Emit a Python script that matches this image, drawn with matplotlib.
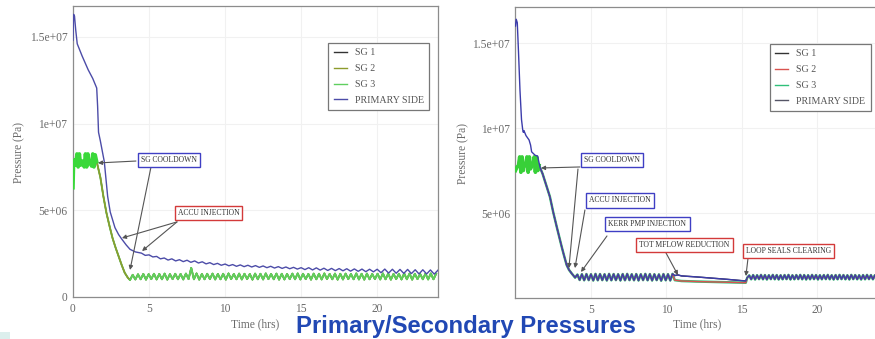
import numpy as np
import matplotlib
matplotlib.use("Agg")
import matplotlib.pyplot as plt
from matplotlib.ticker import FuncFormatter
from matplotlib.patches import Rectangle

plt.rcParams['font.family'] = ['Liberation Serif', 'DejaVu Serif']

MPA = 1e6
SERIES = ["SG 1", "SG 2", "SG 3", "PRIMARY SIDE"]

# ---------------- Left case (pressures in MPa, time in hours) ----------------
left_sg_head_t = [0.0, 0.04, 0.1, 0.18, 0.26, 0.34, 0.42, 0.5, 0.58, 0.66,
                  0.74, 0.82, 0.9, 0.98, 1.06, 1.14, 1.22, 1.3, 1.38, 1.46,
                  1.56, 1.8, 2.0, 2.2, 2.4, 2.6, 2.8, 3.0, 3.2, 3.4, 3.6]
left_sg_head_p = [6.3, 7.8, 7.9, 7.6, 8.25, 7.5, 8.25, 7.6, 7.85, 7.75,
                  7.5, 8.25, 7.5, 8.25, 7.7, 7.8, 7.55, 8.25, 7.5, 8.2,
                  7.8, 6.9, 5.8, 4.85, 4.1, 3.4, 2.85, 2.35, 1.85, 1.4, 1.12]
left_sg_troughs = [0.98, 1.01, 1.02, 1.00, 1.03, 1.01, 1.02, 1.00, 1.03, 1.02,
                   1.01, 1.03, 1.02, 1.00, 1.02, 1.03, 1.01, 1.02, 1.00, 1.03,
                   1.02, 1.01, 1.03, 1.00, 1.02, 1.01, 1.03, 1.02, 1.00, 1.01,
                   1.03, 1.02, 1.01, 1.03, 1.00, 1.02, 1.01, 1.03, 1.02, 1.00,
                   1.01, 1.03, 1.02, 1.01, 1.00, 1.02, 1.03, 1.01, 1.02, 1.00,
                   1.03, 1.01, 1.02, 1.00, 1.03, 1.02, 1.01, 1.02]
left_sg_peaks = [1.28, 1.31, 1.33, 1.32, 1.34, 1.33, 1.35, 1.32, 1.34, 1.33,
                 1.35, 1.68, 1.36, 1.33, 1.34, 1.35, 1.33, 1.34, 1.36, 1.33,
                 1.35, 1.34, 1.33, 1.35, 1.34, 1.36, 1.33, 1.35, 1.34, 1.33,
                 1.35, 1.36, 1.34, 1.33, 1.35, 1.34, 1.36, 1.33, 1.35, 1.34,
                 1.35, 1.33, 1.36, 1.34, 1.35, 1.33, 1.34, 1.36, 1.35, 1.33,
                 1.34, 1.36, 1.35, 1.34, 1.33, 1.35, 1.36, 1.34]
left_prim_head_t = [0.0, 0.04, 0.1, 0.18, 0.28, 0.6, 1.0, 1.3, 1.56, 1.62,
                    1.68, 1.8, 2.06, 2.28, 2.45, 2.76, 3.0, 3.2, 3.5, 3.75, 4.1]
left_prim_head_p = [14.8, 16.3, 16.2, 15.4, 14.6, 13.9, 13.1, 12.6, 12.05, 11.0,
                    9.5, 9.0, 7.8, 5.8, 4.9, 4.0, 3.6, 3.35, 3.0, 2.75, 2.6]
left_prim_highs = [2.53, 2.43, 2.34, 2.25, 2.20, 2.15, 2.12, 2.08, 2.03, 1.98,
                   1.94, 1.90, 1.87, 1.85, 1.83, 1.81, 1.79, 1.77, 1.75, 1.73,
                   1.71, 1.69, 1.69, 1.68, 1.66, 1.65, 1.64, 1.63, 1.62, 1.61,
                   1.60, 1.60, 1.61, 1.60, 1.59, 1.59, 1.57, 1.57, 1.56, 1.55]
left_prim_lows = [2.40, 2.31, 2.20, 2.13, 2.08, 2.04, 2.00, 1.96, 1.91, 1.87,
                  1.83, 1.80, 1.77, 1.75, 1.73, 1.71, 1.69, 1.67, 1.65, 1.63,
                  1.61, 1.58, 1.56, 1.55, 1.53, 1.52, 1.51, 1.49, 1.48, 1.46,
                  1.45, 1.40, 1.38, 1.37, 1.36, 1.35, 1.33, 1.33, 1.32]

# ---------------- Right case ----------------
right_sg_head_t = [0.0, 0.1, 0.2, 0.28, 0.36, 0.44, 0.52, 0.6, 0.68, 0.76,
                   0.84, 0.92, 1.0, 1.08, 1.16, 1.24, 1.32, 1.4, 1.48, 1.56]
right_sg_head_p = [7.5, 7.7, 7.8, 8.3, 7.4, 8.3, 7.5, 7.9, 7.8, 8.3,
                   7.4, 8.3, 7.6, 7.9, 7.8, 8.3, 7.4, 8.3, 7.5, 7.8]
right_prim_head_t = [0.0, 0.05, 0.12, 0.2, 0.3, 0.4, 0.48, 0.52, 0.56, 0.7,
                     0.9, 1.0, 1.07, 1.18, 1.3, 1.47, 1.55]
right_prim_head_p = [16.0, 16.4, 16.2, 14.5, 12.2, 10.5, 9.9, 9.75, 9.85, 9.55,
                     9.3, 9.0, 8.6, 8.5, 8.4, 8.35, 8.0]
right_descent_t = [1.64, 1.8, 2.0, 2.28, 2.5, 2.73, 3.06, 3.2, 3.39, 3.55, 3.72]
right_descent_p = [7.65, 7.3, 6.75, 5.96, 5.05, 4.2, 3.02, 2.55, 1.94, 1.65, 1.45]
right_osc1_troughs = [1.20, 1.06, 1.04, 1.05, 1.03, 1.04, 1.05, 1.03, 1.04, 1.05,
                      1.03, 1.04, 1.05, 1.04, 1.03, 1.05, 1.04, 1.03, 1.05, 1.02,
                      1.04, 1.03]
right_osc1_peaks = [1.38, 1.40, 1.41, 1.40, 1.42, 1.41, 1.40, 1.42, 1.41, 1.40,
                    1.41, 1.42, 1.40, 1.41, 1.40, 1.42, 1.41, 1.40, 1.39, 1.41,
                    1.40, 1.42]
right_prim_mid_t = [10.55, 10.75, 11.0, 12.0, 13.0, 14.0, 15.0, 15.25]
right_prim_mid_p = [1.32, 1.36, 1.30, 1.24, 1.17, 1.10, 1.02, 1.00]
right_sg_mid_t = [10.55, 11.0, 12.0, 13.0, 14.0, 15.0, 15.25]
right_sg_mid_p = [1.05, 1.00, 0.97, 0.95, 0.93, 0.91, 0.90]
right_osc2_troughs = [1.20, 1.10, 1.09, 1.11, 1.10, 1.09, 1.11, 1.10, 1.09, 1.10,
                      1.11, 1.09, 1.10, 1.11, 1.10, 1.09, 1.10, 1.11, 1.09, 1.10,
                      1.11, 1.10, 1.09, 1.10, 1.11, 1.10, 1.09, 1.11, 1.10, 1.09,
                      1.10, 1.11, 1.10, 1.09]
right_osc2_peaks = [1.33, 1.35, 1.34, 1.36, 1.35, 1.34, 1.36, 1.35, 1.34, 1.35,
                    1.36, 1.34, 1.35, 1.36, 1.35, 1.34, 1.36, 1.35, 1.34, 1.35,
                    1.36, 1.34, 1.35, 1.36, 1.35, 1.34, 1.36, 1.35, 1.34, 1.35,
                    1.36, 1.35, 1.34, 1.35]


def zigzag(t0, period, first, second):
    """Alternate two lists of extrema, half a period apart, starting at t0."""
    vals = []
    for i, v in enumerate(first):
        vals.append(v)
        if i < len(second):
            vals.append(second[i])
    t = t0 + period / 2.0 * np.arange(len(vals))
    return t, np.array(vals)


def join(*parts):
    ts = np.concatenate([np.asarray(p[0], float) for p in parts])
    ps = np.concatenate([np.asarray(p[1], float) for p in parts]) * MPA
    return ts, ps


# assemble left series
l_sg = join((left_sg_head_t, left_sg_head_p),
            zigzag(3.75, 0.35, left_sg_troughs, left_sg_peaks))
l_prim = join((left_prim_head_t, left_prim_head_p),
              zigzag(4.5, 0.5, left_prim_highs, left_prim_lows))

# assemble right series
r_osc1 = zigzag(3.95, 0.3, right_osc1_troughs, right_osc1_peaks)
r_osc2 = zigzag(15.35, 0.26, right_osc2_troughs, right_osc2_peaks)
r_prim = join((right_prim_head_t, right_prim_head_p),
              (right_descent_t, right_descent_p), r_osc1,
              (right_prim_mid_t, right_prim_mid_p), r_osc2)
r_sg1 = join((right_sg_head_t, right_sg_head_p),
             (right_descent_t, right_descent_p), r_osc1,
             (right_prim_mid_t, right_prim_mid_p), r_osc2)
r_sg23 = join((right_sg_head_t, right_sg_head_p),
              (right_descent_t, right_descent_p), r_osc1,
              (right_sg_mid_t, right_sg_mid_p), r_osc2)

fig = plt.figure(figsize=(8.75, 3.39), dpi=100)
fig.patch.set_facecolor('white')

axL = fig.add_axes([0.0834, 0.1239, 0.4172, 0.8584])
axR = fig.add_axes([0.5891, 0.1209, 0.4142, 0.8584])

sci = FuncFormatter(lambda v, _: '%g' % v)


def style_axes(ax, ymax, xticks, yticks):
    ax.set_xlim(0, 24)
    ax.set_ylim(0, ymax)
    ax.set_xticks(xticks)
    ax.set_yticks(yticks)
    ax.yaxis.set_major_formatter(sci)
    ax.tick_params(length=0, labelsize=8.3, labelcolor='#6a6a6a', pad=4)
    for s in ax.spines.values():
        s.set_color('#8c8c8c')
        s.set_linewidth(0.9)
    ax.grid(True, color='#f1f1f1', lw=0.8)
    ax.set_axisbelow(True)
    ax.set_xlabel('Time (hrs)', fontsize=8.3, color='#6a6a6a')
    ax.set_ylabel('Pressure (Pa)', fontsize=8.3, color='#6a6a6a')


style_axes(axL, 16.78e6, [0, 5, 10, 15, 20], [0, 5e6, 1e7, 1.5e7])
style_axes(axR, 17.12e6, [5, 10, 15, 20], [5e6, 1e7, 1.5e7])
axL.xaxis.set_label_coords(0.50, -0.072)
axL.yaxis.set_label_coords(-0.1315, 0.498)
axR.xaxis.set_label_coords(0.50, -0.069)
axR.yaxis.set_label_coords(-0.128, 0.498)

# ---- left curves ----
cL = ['#333333', '#8d9b2c', '#5fcf5f', '#4c4ca8']
axL.plot(*l_sg, color=cL[0], lw=1.0, zorder=2, label=SERIES[0])
axL.plot(*l_sg, color=cL[2], lw=1.4, zorder=3, label=SERIES[2])
axL.plot(*l_sg, color=cL[1], lw=1.1, zorder=4, label=SERIES[1])
t, p = l_sg
head = t <= 1.56
tail = t >= 3.7
axL.plot(t[head], p[head], color='#3ad83a', lw=2.6, zorder=5)
axL.plot(t[tail], p[tail], color=cL[2], lw=1.2, zorder=5)
axL.plot(*l_prim, color=cL[3], lw=1.0, zorder=6, label=SERIES[3])

# ---- right curves ----
cR = ['#333333', '#d9534f', '#2fc07a', '#3c3cab']
axR.plot(*r_sg1, color=cR[0], lw=1.0, zorder=2, label=SERIES[0])
axR.plot(*r_sg23, color=cR[2], lw=1.8, zorder=3, label=SERIES[2])
axR.plot(*r_sg23, color=cR[1], lw=1.0, zorder=4, label=SERIES[1])
axR.plot(*r_prim, color=cR[3], lw=1.0, zorder=6, label=SERIES[3])
t, p = r_sg23
head = t <= 1.56
axR.plot(t[head], p[head], color='#38d038', lw=2.6, zorder=5)


def legend(ax, colors, x0):
    handles = [plt.Line2D([], [], color=c, lw=1.0) for c in colors]
    leg = ax.legend(handles, SERIES, loc='upper left', bbox_to_anchor=(x0, 0.873),
                    fontsize=7.2, frameon=True, fancybox=False, framealpha=1,
                    edgecolor='#777777', handlelength=1.3, handletextpad=0.8,
                    labelspacing=0.68, borderpad=0.55, borderaxespad=0)
    leg.get_frame().set_linewidth(0.9)
    for txt in leg.get_texts():
        txt.set_color('#555555')


legend(axL, cL, 0.699)
legend(axR, [cR[0], cR[1], cR[2], '#555566'], 0.702)

BLUE_BOX = '#3f3fc4'
RED_BOX = '#d33a3a'
arrow_kw = dict(arrowstyle='-|>', color='#555555', lw=0.8, mutation_scale=6,
                shrinkA=0, shrinkB=0)


def note(ax, text, xy, edge):
    ax.text(xy[0], xy[1] * MPA, text, fontsize=5.5, color='#333333', ha='center',
            va='center', zorder=10,
            bbox=dict(boxstyle='square,pad=0.4', fc='white', ec=edge, lw=1.0))


def arrow(ax, start, end):
    ax.annotate('', xy=(end[0], end[1] * MPA), xytext=(start[0], start[1] * MPA),
                arrowprops=arrow_kw, zorder=9)


# left annotations
note(axL, 'SG COOLDOWN', (6.32, 7.90), BLUE_BOX)
note(axL, 'ACCU INJECTION', (8.91, 4.82), RED_BOX)
arrow(axL, (4.14, 7.84), (1.64, 7.73))
arrow(axL, (5.13, 7.50), (3.75, 1.56))
arrow(axL, (6.84, 4.33), (3.22, 3.40))
arrow(axL, (6.84, 4.33), (4.54, 2.65))

# right annotations
note(axR, 'SG COOLDOWN', (6.42, 8.12), BLUE_BOX)
note(axR, 'ACCU INJECTION', (6.92, 5.74), BLUE_BOX)
note(axR, 'KERR PMP INJECTION', (8.74, 4.38), BLUE_BOX)
note(axR, 'TOT MFLOW REDUCTION', (11.19, 3.12), RED_BOX)
note(axR, 'LOOP SEALS CLEARING', (18.08, 2.79), RED_BOX)
arrow(axR, (4.27, 7.71), (1.69, 7.65))
arrow(axR, (4.14, 7.59), (3.54, 1.76))
arrow(axR, (4.60, 5.18), (3.94, 1.76))
arrow(axR, (6.06, 3.65), (4.34, 1.53))
arrow(axR, (9.97, 2.65), (10.76, 1.35))
arrow(axR, (15.40, 2.35), (15.26, 1.29))

fig.text(465.5 / 875, 1 - 333 / 339, 'Primary/Secondary Pressures',
         family='Liberation Sans', weight='bold', fontsize=17.2,
         color='#2148b4', ha='center', va='baseline')
fig.patches.append(Rectangle((0, 0), 10 / 875, 7 / 339, transform=fig.transFigure,
                             facecolor='#dcefed', edgecolor='none'))

fig.savefig('out.png', dpi=100)
